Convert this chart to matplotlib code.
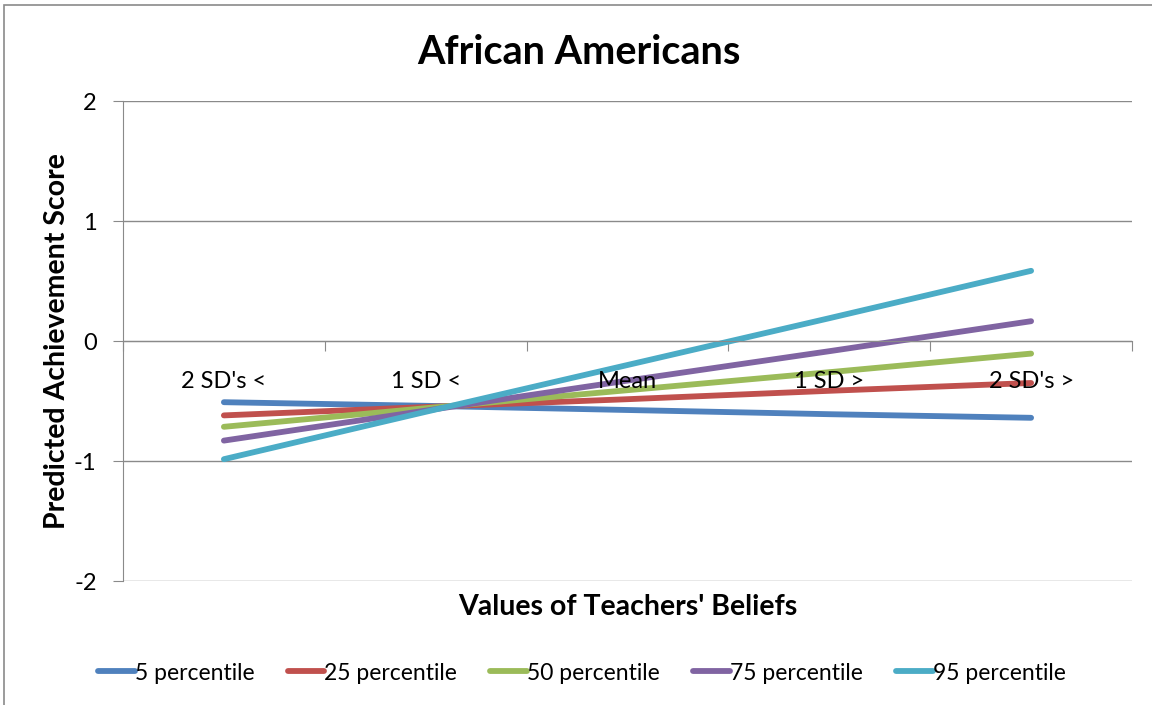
import matplotlib.pyplot as plt
from matplotlib.patches import Rectangle

plt.rcParams['font.family'] = ['Lato', 'DejaVu Sans']

# data
categories = ["2 SD's <", "1 SD <", "Mean", "1 SD >", "2 SD's >"]
p5 = [-0.51, -0.54, -0.575, -0.61, -0.64]
p25 = [-0.62, -0.55, -0.485, -0.415, -0.35]
p50 = [-0.715, -0.56, -0.41, -0.26, -0.105]
p75 = [-0.83, -0.58, -0.33, -0.085, 0.165]
p95 = [-0.985, -0.59, -0.20, 0.19, 0.585]

series = [("5 percentile", p5, "#4F81BD"),
          ("25 percentile", p25, "#C0504D"),
          ("50 percentile", p50, "#9BBB59"),
          ("75 percentile", p75, "#8064A2"),
          ("95 percentile", p95, "#4BACC6")]

fig = plt.figure(figsize=(11.52, 7.05), dpi=100)
ax = fig.add_axes([123/1152, 1-581/705, (1132-123)/1152, (581-101)/705])

x = range(len(categories))
for name, vals, col in series:
    ax.plot(x, vals, color=col, lw=4.2, label=name, solid_capstyle='round')

ax.set_xlim(-0.5, 4.5)
ax.set_ylim(-2, 2)
ax.set_yticks([-2, -1, 0, 1, 2])
ax.set_yticklabels(["-2", "-1", "0", "1", "2"], fontsize=17)
ax.grid(axis='y', color='#8a8a8a', lw=1)
ax.set_axisbelow(True)

for s in ['top', 'right']:
    ax.spines[s].set_visible(False)
ax.spines['bottom'].set_position(('data', 0))
ax.spines['bottom'].set_color('#8a8a8a')
ax.spines['left'].set_color('#8a8a8a')
ax.tick_params(axis='y', length=7, color='#8a8a8a', direction='out', pad=12)

# category labels sit on top of the lines, just under the zero axis
ax.set_xticks([i - 0.5 for i in range(len(categories) + 1)])
ax.set_xticklabels([])
ax.tick_params(axis='x', length=7, color='#8a8a8a')
for i, c in enumerate(categories):
    ax.text(i, -0.34, c, fontsize=17, ha='center', va='center', zorder=5)

fig.text(579/1152, 1-52/705, "African Americans", fontsize=28.5, fontweight='bold',
         ha='center', va='center')
ax.set_ylabel("Predicted Achievement Score", fontsize=20.5, fontweight='bold', labelpad=3)
fig.text(0.545, 1-607/705, "Values of Teachers' Beliefs", fontsize=20.5,
         fontweight='bold', ha='center', va='center')

fig.legend(loc='center', bbox_to_anchor=(0.505, 1-673/705), ncol=5, frameon=False,
           fontsize=16.5, handlelength=1.6, handletextpad=0.0, columnspacing=1.45)

fig.patches.append(Rectangle((4/1152, -0.1), 2, 1.1 - 5/705, transform=fig.transFigure,
                             fill=False, edgecolor='#8a8a8a', lw=1.2))

fig.savefig("out.png", dpi=100)
